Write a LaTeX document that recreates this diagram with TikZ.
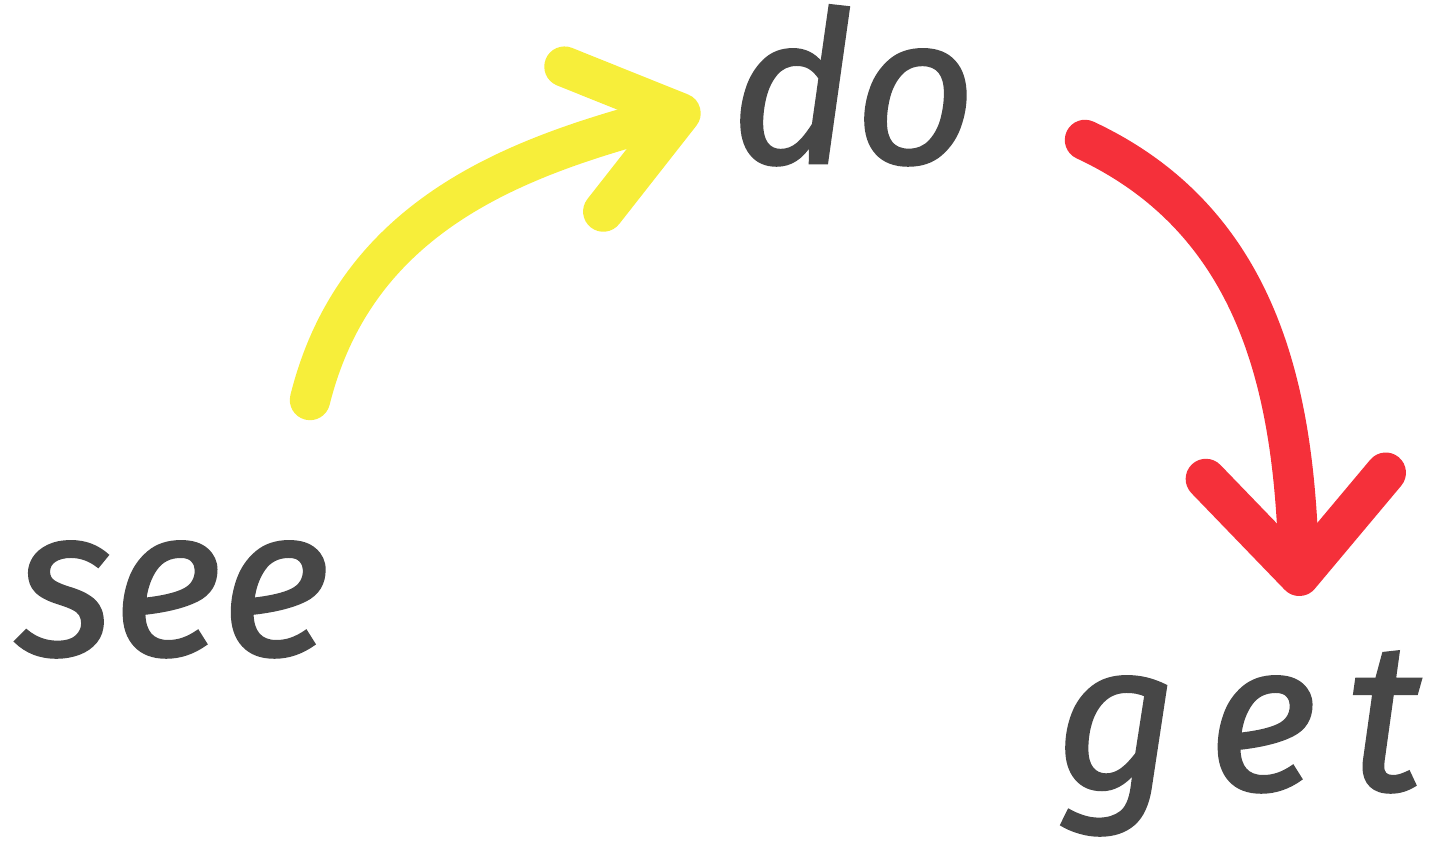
\documentclass[tikz,border=0pt]{standalone}
\usepackage{fontspec}
\setmainfont{Fira Sans}[ItalicFeatures={FakeBold=1.2}]
\usepackage{tikz}
\usetikzlibrary{arrows.meta}
\definecolor{inkgrey}{HTML}{474747}
\definecolor{penyellow}{HTML}{F7EE3A}
\definecolor{penred}{HTML}{F5303A}

\begin{document}
\begin{tikzpicture}[
  w/.style={inner sep=0pt,text=inkgrey,font=\fontsize{60}{62}\selectfont\itshape},
  brush/.style={line width=11.5pt,line cap=round,line join=round},
  ya/.style={brush,draw=penyellow,-{Straight Barb[length=10mm,width=15mm,line cap=round,round]}},
  ra/.style={brush,draw=penred,-{Straight Barb[length=10mm,width=18mm,line cap=round,round]}}]
\useasboundingbox (0,0) rectangle (14.54,8.58);
\node[w,anchor=base west] (see) at (0.15,2.03) {see};
\node[w,anchor=base west] (do) at (7.30,6.95) {do};
\node[w,anchor=base west] (get) at (10.55,0.68) {g\hspace{3mm}e\hspace{3mm}t};
% arrow ends
\coordinate (ys) at (3.10,4.58);
\coordinate (ye) at (7.00,7.50);
\coordinate (rs) at (10.85,7.18);
\coordinate (re) at (13.00,2.62);
\draw[ya] (ys) to[out=76,in=195] (ye);
\draw[ra] (rs) to[out=-25,in=92] (re);
\end{tikzpicture}
\end{document}
